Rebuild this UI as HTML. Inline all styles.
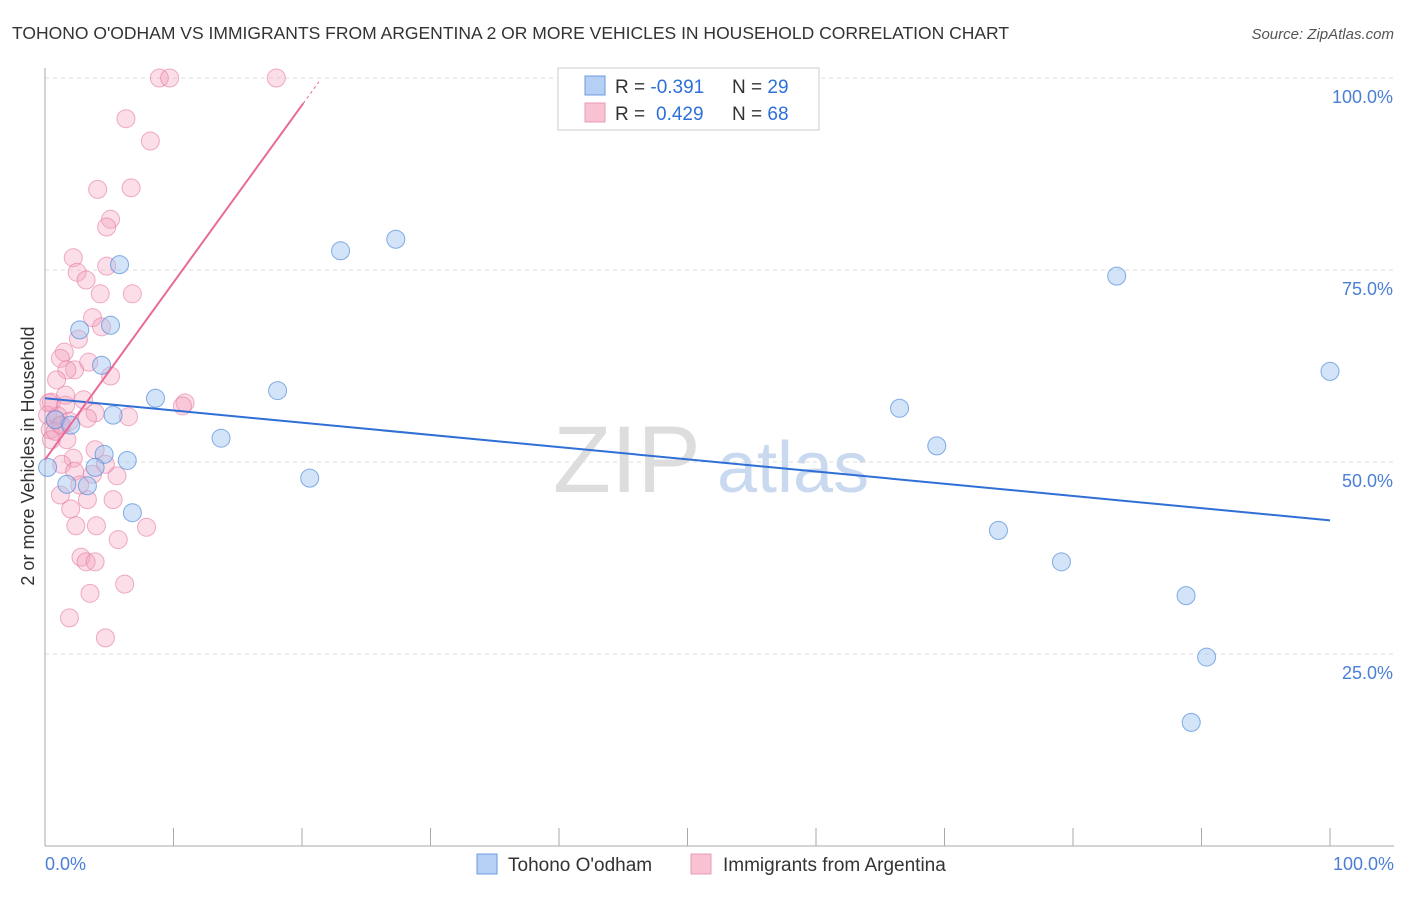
<!DOCTYPE html>
<html><head><meta charset="utf-8"><style>
body{margin:0;background:#fff;font-family:"Liberation Sans",sans-serif}
svg text{font-family:"Liberation Sans",sans-serif}
</style></head><body>
<svg id="c" width="1406" height="892">
<text x="12" y="39" font-size="17.5" fill="#333">TOHONO O'ODHAM VS IMMIGRANTS FROM ARGENTINA 2 OR MORE VEHICLES IN HOUSEHOLD CORRELATION CHART</text>
<text x="1394" y="39" font-size="15" fill="#555" font-style="italic" text-anchor="end">Source: ZipAtlas.com</text>
<text x="34" y="456" font-size="18" fill="#333" text-anchor="middle" transform="rotate(-90 34 456)">2 or more Vehicles in Household</text>
<text x="553" y="492" font-size="95" fill="#ddd" font-family="Liberation Serif">ZIP</text>
<text x="717" y="492" font-size="72" fill="#c9d9f0">atlas</text>
<g id="grid"></g><g id="marks"></g>
<g>
<rect x="558" y="68" width="261" height="62" fill="#fff" stroke="#ccc"/>
<rect x="585" y="76" width="20" height="19" fill="#b5cff5" stroke="#6d9be0"/>
<rect x="585" y="103" width="20" height="19" fill="#f8c2d3" stroke="#eb9ab4"/>
<text x="615" y="93" font-size="19" fill="#333">R = <tspan fill="#2e6fd8">-0.391</tspan><tspan x="732">N = </tspan><tspan fill="#2e6fd8">29</tspan></text>
<text x="615" y="120" font-size="19" fill="#333">R = <tspan fill="#2e6fd8" x="656">0.429</tspan><tspan x="732">N = </tspan><tspan fill="#2e6fd8">68</tspan></text>
</g>
<g>
<rect x="477" y="854" width="20" height="20" fill="#b5cff5" stroke="#6d9be0"/>
<text x="508" y="871" font-size="19" fill="#333">Tohono O'odham</text>
<rect x="691" y="854" width="20" height="20" fill="#f8c2d3" stroke="#eb9ab4"/>
<text x="723" y="871" font-size="19" fill="#333">Immigrants from Argentina</text>
</g>
<text x="45" y="870" font-size="18" fill="#4a7fd6">0.0%</text>
<text x="1394" y="870" font-size="18" fill="#4a7fd6" text-anchor="end">100.0%</text>
</svg>
<script>
const xMin=0,xMax=100,yMin=0,yMax=100;
const yTicks=[25,50,75,100];
const yTickLabels=["25.0%","50.0%","75.0%","100.0%"];
const blueX=[0.2,1.7,2.7,4.4,5.1,5.3,5.8,4.6,3.9,3.3,6.4,6.8,8.6,13.7,18.1,20.6,23.0,27.3,66.5,69.4,74.2,79.1,83.4,88.8,90.4,89.2,100,0.8,2.0];
const blueY=[49.3,47.1,67.2,62.6,67.8,56.1,75.7,51.0,49.3,46.9,50.2,43.4,58.3,53.1,59.3,47.9,77.5,79.0,57.0,52.1,41.1,37.0,74.2,32.6,24.6,16.1,61.8,55.5,54.8];
const pinkX=[8.9,9.7,18.0,6.3,8.2,4.1,6.7,5.1,4.8,2.2,2.5,3.2,4.8,6.8,3.7,2.6,4.4,1.5,1.2,3.4,2.3,1.7,5.1,0.9,3.0,0.5,1.6,3.9,6.5,0.2,0.8,1.2,0.4,1.7,3.9,2.2,1.3,4.7,5.6,2.3,3.7,1.2,3.3,5.3,2.0,2.4,4.0,7.9,5.7,2.8,3.2,3.9,6.2,3.5,1.9,4.7,10.9,10.7,0.5,1.0,0.3,1.3,0.8,1.9,3.3,2.7,1.6,4.3];
const pinkY=[100,100,100,94.7,91.8,85.5,85.7,81.6,80.6,76.6,74.7,73.7,75.5,71.9,68.8,66.0,67.6,64.3,63.5,63.0,62.0,62.0,61.2,60.7,58.1,57.8,57.4,56.4,55.9,56.1,55.5,54.8,54.2,52.9,51.6,50.5,49.7,49.7,48.2,48.8,48.4,45.7,45.1,45.1,43.9,41.7,41.7,41.5,39.9,37.6,37.0,37.0,34.1,32.9,29.7,27.1,57.7,57.3,52.9,56.0,57.7,54.8,54.0,55.3,55.7,47.0,58.7,71.9];
const blueTrendX=[0,100], blueTrendY=[58.3,42.4];
const pinkTrendX=[0,20.1], pinkTrendY=[50.3,96.7];
const L=45,R=1330,T=78,B=846;
const sx=v=>L+(v-xMin)/(xMax-xMin)*(R-L);
const sy=v=>B-(v-yMin)/(yMax-yMin)*(B-T);
const NS="http://www.w3.org/2000/svg";
const grid=document.getElementById('grid'), marks=document.getElementById('marks');
function mk(tag,attrs,parent){const e=document.createElementNS(NS,tag);for(const k in attrs)e.setAttribute(k,attrs[k]);parent.appendChild(e);return e;}
yTicks.forEach((t,i)=>{
 const g=mk('line',{x1:L,x2:1394,y1:sy(t),y2:sy(t),stroke:'#ddd','stroke-dasharray':'4,4'},grid);
 
 
 const tx=mk('text',{x:1393,y:sy(t)+25,'font-size':18,fill:'#4a7fd6','text-anchor':'end'},grid);
 tx.textContent=yTickLabels[i];
 
 
});
const ax=mk('line',{x1:L,x2:L,y1:68,y2:B,stroke:'#aaa'},grid);


const bx=mk('line',{x1:L,x2:1394,y1:B,y2:B,stroke:'#aaa'},grid);


for(let i=0;i<=10;i++){const t=mk('line',{x1:sx(i*10),x2:sx(i*10),y1:828,y2:B,stroke:'#aaa'},grid);
 
 }
pinkX.forEach((v,i)=>{const c=mk('circle',{cx:sx(v),cy:sy(pinkY[i]),r:9,fill:'rgba(244,160,188,0.35)',stroke:'rgba(230,120,160,0.6)','stroke-width':1},marks);
 
 });
blueX.forEach((v,i)=>{const c=mk('circle',{cx:sx(v),cy:sy(blueY[i]),r:9,fill:'rgba(160,195,240,0.45)',stroke:'rgba(80,140,220,0.7)','stroke-width':1},marks);
 
 });
const bl=mk('line',{x1:sx(blueTrendX[0]),y1:sy(blueTrendY[0]),x2:sx(blueTrendX[1]),y2:sy(blueTrendY[1]),stroke:'#2f6fd6','stroke-width':2},marks);


const pl=mk('line',{x1:sx(pinkTrendX[0]),y1:sy(pinkTrendY[0]),x2:sx(pinkTrendX[1]),y2:sy(pinkTrendY[1]),stroke:'#e8699a','stroke-width':2},marks);


const ex=pinkTrendX[1]+(pinkTrendX[1]-pinkTrendX[0])*0.06, ey=pinkTrendY[1]+(pinkTrendY[1]-pinkTrendY[0])*0.06;
const pd=mk('line',{x1:sx(pinkTrendX[1]),y1:sy(pinkTrendY[1]),x2:sx(ex),y2:sy(ey),stroke:'#e8699a','stroke-width':1,'stroke-dasharray':'3,3'},marks);


</script>
</body></html>
